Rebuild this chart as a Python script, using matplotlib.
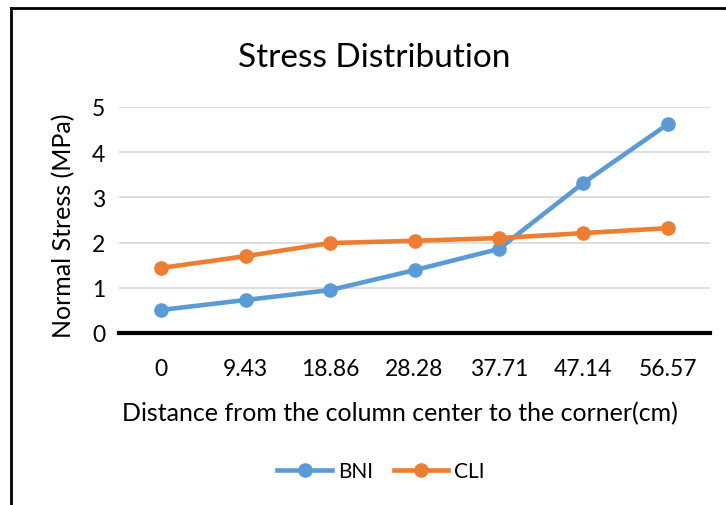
import matplotlib
matplotlib.use("Agg")
import matplotlib.pyplot as plt

plt.rcParams['font.family'] = ['Lato', 'DejaVu Sans']

categories = ["0", "9.43", "18.86", "28.28", "37.71", "47.14", "56.57"]
bni = [0.51, 0.73, 0.95, 1.39, 1.86, 3.32, 4.62]
cli = [1.44, 1.70, 1.99, 2.04, 2.10, 2.21, 2.32]
yticks = [0, 1, 2, 3, 4, 5]

W, H = 726, 506
fig = plt.figure(figsize=(W / 100, H / 100), dpi=100)
fig.patch.set_facecolor("white")

# outer border (left and top visible)
fig.add_artist(plt.Line2D([11 / W, 11 / W], [0, 1 - 9 / H], color="black", lw=2, transform=fig.transFigure))
fig.add_artist(plt.Line2D([11 / W, 1], [1 - 9 / H, 1 - 9 / H], color="black", lw=2, transform=fig.transFigure))

ax = fig.add_axes([119 / W, 1 - 334 / H, (710 - 119) / W, (334 - 108) / H])
ax.plot(categories, bni, color="#5B9BD5", lw=3.3, marker="o", markersize=9.5, label="BNI", zorder=3)
ax.plot(categories, cli, color="#ED7D31", lw=3.3, marker="o", markersize=9.5, label="CLI", zorder=3)

ax.set_xlim(-0.5, 6.5)
ax.set_ylim(0, 5)
ax.set_yticks(yticks)
ax.set_yticklabels([str(v) for v in yticks])
ax.grid(axis="y", color="#D9D9D9", lw=1.2)
ax.set_axisbelow(True)
for s in ["top", "right", "left"]:
    ax.spines[s].set_visible(False)
ax.spines["bottom"].set_color("black")
ax.spines["bottom"].set_linewidth(3)
ax.spines["bottom"].set_zorder(4)
ax.tick_params(axis="both", length=0, labelsize=16.5, colors="black")
ax.tick_params(axis="x", pad=18)
ax.tick_params(axis="y", pad=10)

fig.text(374 / W, 1 - 58 / H, "Stress Distribution", ha="center", va="center", fontsize=24)
fig.text(400 / W, 1 - 414 / H, "Distance from the column center to the corner(cm)", ha="center", va="center", fontsize=18)
fig.text(64 / W, 1 - 226 / H, "Normal Stress (MPa)", ha="center", va="center", fontsize=18, rotation=90)

fig.legend(loc="center", bbox_to_anchor=(381 / W, 1 - 472 / H), ncol=2, frameon=False,
           fontsize=15, handlelength=2.6, columnspacing=1.0, handletextpad=0.3)

fig.savefig("out.png", dpi=100, facecolor="white")
